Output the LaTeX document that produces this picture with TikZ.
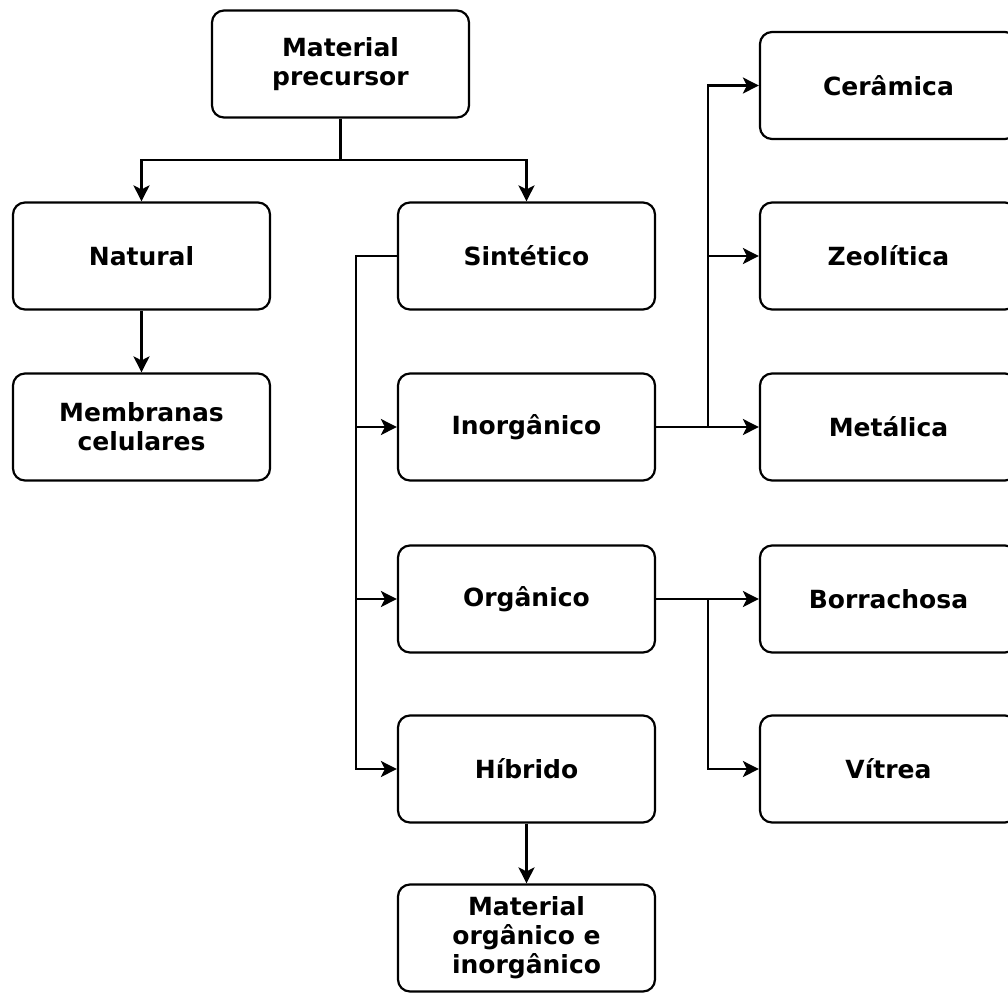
\documentclass[tikz,border=0pt]{standalone}
\usepackage{fontspec}
\setmainfont{DejaVu Sans}
\usepackage{tikz}
\usetikzlibrary{arrows.meta}

\begin{document}
\begin{tikzpicture}[x=0.5pt, y=-0.5pt, color=black, line width=1.1pt,
      -{Stealth[length=8pt,width=8pt,inset=2pt]},
      every node/.append style={align=center,font=\fontsize{12.5pt}{14.5pt}\selectfont\bfseries}]
      \tikzstyle{box} = [draw, rectangle, rounded corners=6pt, minimum width=128.5pt, minimum height=53.5pt, inner sep=2pt]
      \clip (0,0) rectangle (1008,992);
      \node (materialprecursor) [box] at (340.5,64) {Material\\precursor};
      \node (natural) [box] at (141.5,256) {Natural};
      \node (membranascelulares) [box] at (141.5,427) {Membranas\\celulares};
      \node (sintetico) [box] at (526.5,256) {Sintético};
      \node (inorganico) [box] at (526.5,427) {Inorgânico};
      \node (organico) [box] at (526.5,599) {Orgânico};
      \node (hibrido) [box] at (526.5,769) {Híbrido};
      \node (materialorganicoeinorganico) [box] at (526.5,938) {Material\\orgânico e\\inorgânico};
      \node (ceramica) [box] at (888.5,85.5) {Cerâmica};
      \node (zeolitica) [box] at (888.5,256) {Zeolítica};
      \node (metalica) [box] at (888.5,427) {Metálica};
      \node (borrachosa) [box] at (888.5,599) {Borrachosa};
      \node (vitrea) [box] at (888.5,769) {Vítrea};
      \coordinate (split) at (340.5,160);
      \coordinate (sinteticobus) at (356,256);
      \coordinate (inorganicobus) at (708,427);
      \coordinate (organicobus) at (708,599);
      \draw[-] (materialprecursor) -- (split);
      \draw (split) -| (natural);
      \draw (split) -| (sintetico);
      \draw (natural) -- (membranascelulares);
      \draw (sintetico) -- (sinteticobus) |- (inorganico);
      \draw (sintetico) -- (sinteticobus) |- (organico);
      \draw (sintetico) -- (sinteticobus) |- (hibrido);
      \draw (hibrido) -- (materialorganicoeinorganico);
      \draw (inorganico) -- (inorganicobus) |- (ceramica);
      \draw (inorganico) -- (inorganicobus) |- (zeolitica);
      \draw (inorganico) -- (metalica);
      \draw (organico) -- (borrachosa);
      \draw (organico) -- (organicobus) |- (vitrea);
  \end{tikzpicture}
\end{document}
